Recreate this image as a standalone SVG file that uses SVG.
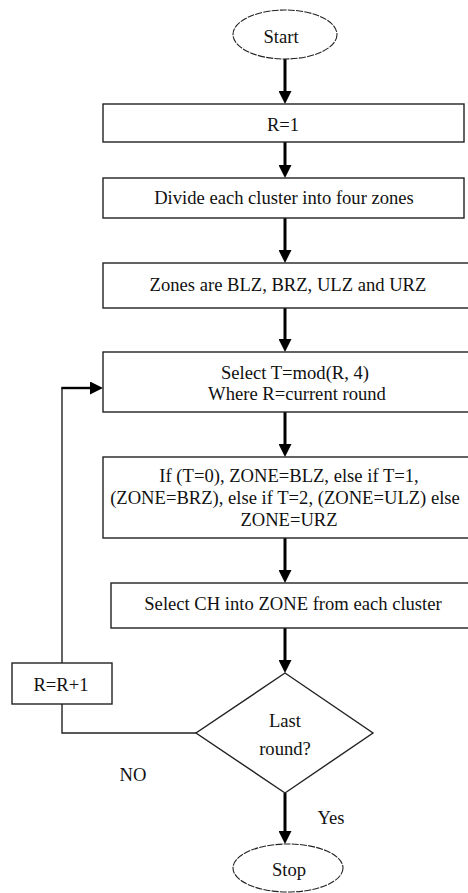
<svg xmlns="http://www.w3.org/2000/svg" width="468" height="893" viewBox="0 0 468 893">
  <style>
    text { font-family: "Liberation Serif", "Times New Roman", "DejaVu Serif", serif; font-size: 18.6px; fill: #111; text-anchor: middle; }
    .box { fill: #fff; stroke: #222; stroke-width: 1.4; }
    .term { fill: #fff; stroke: #222; stroke-width: 1.1; stroke-dasharray: 7 1.2; }
    .flow { fill: none; stroke: #000; stroke-width: 3; }
    .loop { fill: none; stroke: #222; stroke-width: 1.4; }
    .loopin { fill: none; stroke: #000; stroke-width: 2.4; }
  </style>
  <defs>
    <marker id="head" viewBox="0 0 13 13" refX="3" refY="6.5" markerWidth="13" markerHeight="13" markerUnits="userSpaceOnUse" orient="auto">
      <path d="M0,0 L13,6.5 L0,13 z" fill="#000"/>
    </marker>
  </defs>
  <rect width="468" height="893" fill="#fff"/>

  <!-- connectors -->
  <g id="connectors">
    <line class="flow" x1="285" y1="59" x2="285" y2="94" marker-end="url(#head)"/>
    <line class="flow" x1="285" y1="142" x2="285" y2="168" marker-end="url(#head)"/>
    <line class="flow" x1="285" y1="218" x2="285" y2="253" marker-end="url(#head)"/>
    <line class="flow" x1="285" y1="308" x2="285" y2="342" marker-end="url(#head)"/>
    <line class="flow" x1="285" y1="412" x2="285" y2="447" marker-end="url(#head)"/>
    <line class="flow" x1="285" y1="538" x2="285" y2="573" marker-end="url(#head)"/>
    <line class="flow" x1="285" y1="628" x2="285" y2="663" marker-end="url(#head)"/>
    <line class="flow" x1="285" y1="793" x2="285" y2="834" marker-end="url(#head)"/>
    <!-- NO branch back to the round selection -->
    <polyline class="loop" points="196,733 62,733 62,704"/>
    <line class="loop" x1="62" y1="663" x2="62" y2="388"/>
    <line class="loopin" x1="61.3" y1="388" x2="93" y2="388" marker-end="url(#head)"/>
  </g>

  <g id="start">
    <ellipse class="term" cx="285" cy="34.5" rx="52" ry="24.5"/>
    <text x="281" y="43">Start</text>
  </g>

  <g id="init">
    <rect class="box" x="103" y="104" width="361" height="38"/>
    <text x="283" y="131">R=1</text>
  </g>

  <g id="divide">
    <rect class="box" x="103" y="178" width="361" height="40"/>
    <text x="284" y="204">Divide each cluster into four zones</text>
  </g>

  <g id="zones">
    <rect class="box" x="103" y="263" width="370" height="45"/>
    <text x="288" y="291">Zones are BLZ, BRZ, ULZ and URZ</text>
  </g>

  <g id="select-t">
    <rect class="box" x="103" y="352" width="370" height="60"/>
    <text x="295" y="379">Select T=mod(R, 4)</text>
    <text x="297" y="400">Where R=current round</text>
  </g>

  <g id="zone-rule">
    <rect class="box" x="103" y="457" width="370" height="81"/>
    <text x="289" y="482">If (T=0), ZONE=BLZ, else if T=1,</text>
    <text x="285" y="504">(ZONE=BRZ), else if T=2, (ZONE=ULZ) else</text>
    <text x="289" y="526">ZONE=URZ</text>
  </g>

  <g id="select-ch">
    <rect class="box" x="111" y="583" width="362" height="45"/>
    <text x="293" y="610">Select CH into ZONE from each cluster</text>
  </g>

  <g id="last-round">
    <polygon class="box" points="285,673 373,733 285,793 196,733"/>
    <text x="285" y="727">Last</text>
    <text x="285" y="755">round?</text>
  </g>

  <g id="increment">
    <rect class="box" x="12" y="663" width="100" height="41"/>
    <text x="61" y="691">R=R+1</text>
  </g>

  <g id="labels">
    <text x="133" y="781">NO</text>
    <text x="331" y="824">Yes</text>
  </g>

  <g id="stop">
    <ellipse class="term" cx="288" cy="868" rx="55" ry="24"/>
    <text x="289" y="876">Stop</text>
  </g>
</svg>
